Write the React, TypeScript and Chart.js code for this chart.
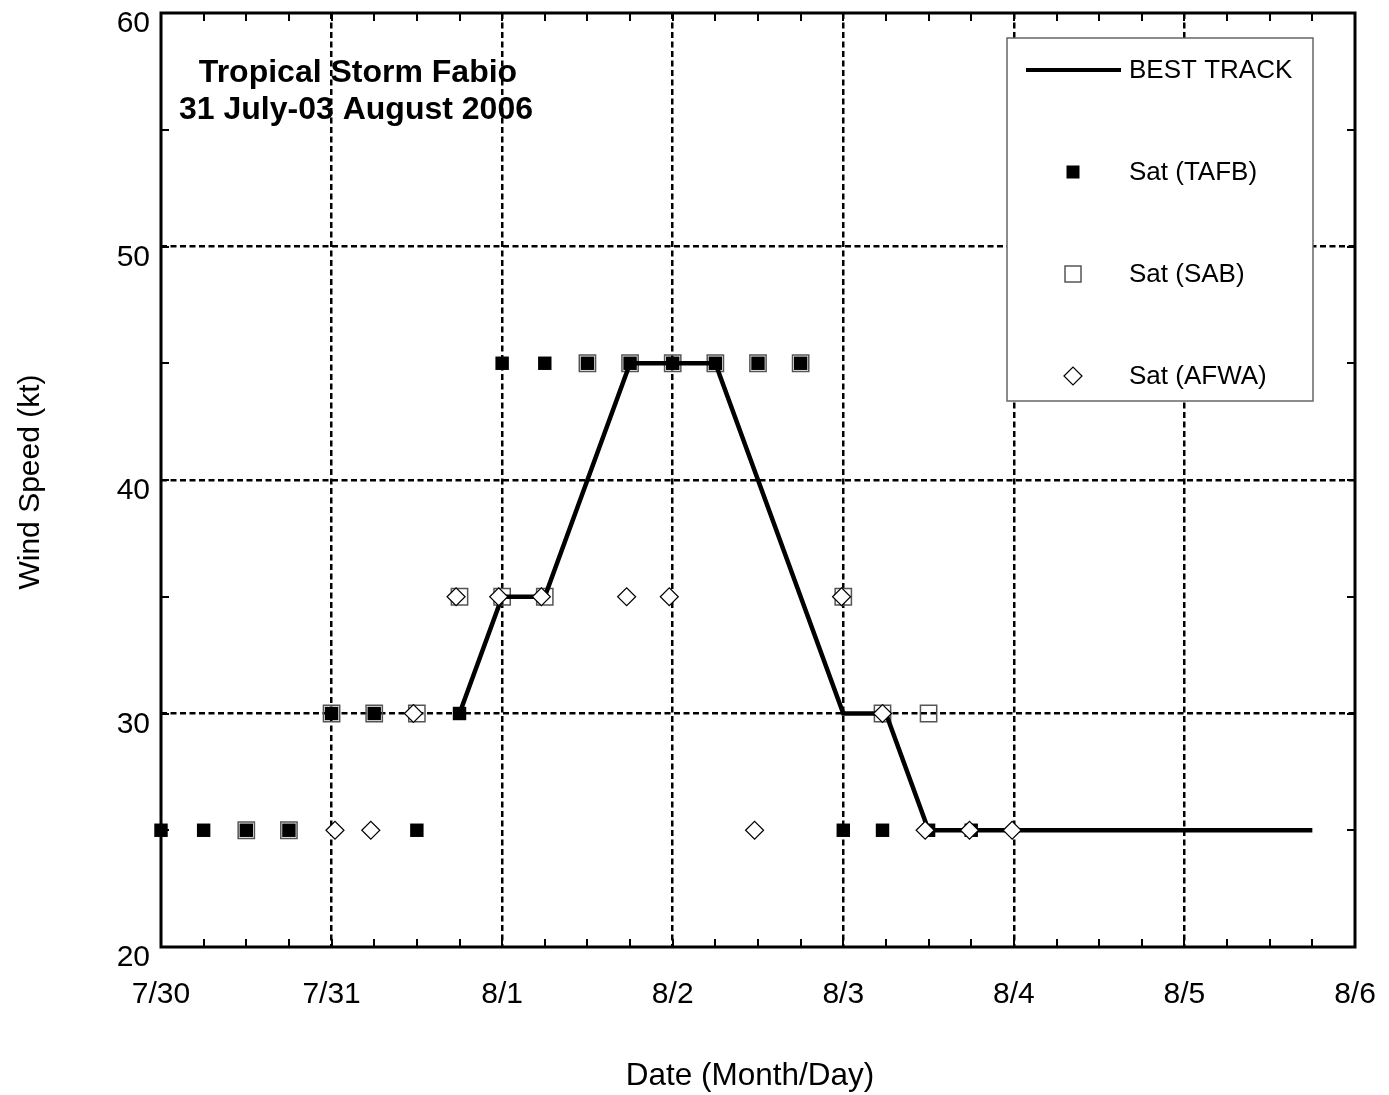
import React, { useEffect, useRef } from 'react';
import { Chart, registerables } from 'chart.js';

Chart.register(...registerables);

const FONT = '"Liberation Sans", Arial, Helvetica, sans-serif';

// ---- Data (days after 7/30 00 UTC, wind speed in kt) ----
const dayLabels = ['7/30', '7/31', '8/1', '8/2', '8/3', '8/4', '8/5', '8/6'];

const bestTrackDays = [1.75, 2.0, 2.25, 2.5, 2.75, 3.0, 3.25, 3.5, 3.75, 4.0, 4.25, 4.5, 4.75, 5.0, 5.25, 5.5, 5.75, 6.0, 6.25, 6.5, 6.75];
const bestTrackKt = [30, 35, 35, 40, 45, 45, 45, 40, 35, 30, 30, 25, 25, 25, 25, 25, 25, 25, 25, 25, 25];

const tafbDays = [0, 0.25, 0.5, 0.75, 1.0, 1.25, 1.5, 1.75, 2.0, 2.25, 2.5, 2.75, 3.0, 3.25, 3.5, 3.75, 4.0, 4.23, 4.5, 4.75];
const tafbKt = [25, 25, 25, 25, 30, 30, 25, 30, 45, 45, 45, 45, 45, 45, 45, 45, 25, 25, 25, 25];

const sabDays = [0.5, 0.75, 1.0, 1.25, 1.5, 1.75, 2.0, 2.25, 2.5, 2.75, 3.0, 3.25, 3.5, 3.75, 4.0, 4.23, 4.5];
const sabKt = [25, 25, 30, 30, 30, 35, 35, 35, 45, 45, 45, 45, 45, 45, 35, 30, 30];

const afwaDays = [1.02, 1.23, 1.48, 1.73, 1.98, 2.23, 2.73, 2.98, 3.48, 3.99, 4.23, 4.48, 4.74, 4.99];
const afwaKt = [25, 25, 30, 35, 35, 35, 35, 35, 25, 35, 30, 25, 25, 25];

const titleLines = ['Tropical Storm Fabio', '31 July-03 August 2006'];
const legendLabels = ['BEST TRACK', 'Sat (TAFB)', 'Sat (SAB)', 'Sat (AFWA)'];
const xTitle = 'Date (Month/Day)';
const yTitle = 'Wind Speed (kt)';

const X_MIN = 0, X_MAX = 7, Y_MIN = 20, Y_MAX = 60;

const toXY = (xs: number[], ys: number[]) => xs.map((x, i) => ({ x, y: ys[i] }));

const decorPlugin = {
  id: 'decor',
  afterDatasetsDraw(chart: any) {
    const { ctx, chartArea: a, scales } = chart;
    const xs = scales.x, ys = scales.y;
    ctx.save();
    // inner ticks on all four sides
    ctx.strokeStyle = '#000';
    ctx.lineWidth = 2;
    ctx.beginPath();
    for (let v = X_MIN; v <= X_MAX + 1e-6; v += 0.25) {
      const px = Math.round(xs.getPixelForValue(v));
      ctx.moveTo(px, a.bottom); ctx.lineTo(px, a.bottom - 8);
      ctx.moveTo(px, a.top); ctx.lineTo(px, a.top + 8);
    }
    for (let v = Y_MIN; v <= Y_MAX + 1e-6; v += 5) {
      const py = Math.round(ys.getPixelForValue(v));
      ctx.moveTo(a.left, py); ctx.lineTo(a.left + 8, py);
      ctx.moveTo(a.right, py); ctx.lineTo(a.right - 8, py);
    }
    ctx.stroke();
    // frame
    ctx.lineWidth = 3;
    ctx.strokeRect(a.left, a.top, a.right - a.left, a.bottom - a.top);

    // title
    ctx.fillStyle = '#000';
    ctx.font = `bold 32px ${FONT}`;
    ctx.textAlign = 'center';
    ctx.textBaseline = 'alphabetic';
    ctx.fillText(titleLines[0], 358, 82);
    ctx.fillText(titleLines[1], 356, 119);

    // axis titles
    ctx.textBaseline = 'middle';
    ctx.font = `31.5px ${FONT}`;
    ctx.fillText(xTitle, 750, 1076);
    ctx.font = `30px ${FONT}`;
    ctx.save();
    ctx.translate(31, 482);
    ctx.rotate(-Math.PI / 2);
    ctx.fillText(yTitle, 0, 0);
    ctx.restore();

    // legend box
    const bx = 1007, by = 38, bw = 306, bh = 363;
    ctx.fillStyle = '#fff';
    ctx.fillRect(bx, by, bw, bh);
    ctx.strokeStyle = '#666';
    ctx.lineWidth = 1.5;
    ctx.strokeRect(bx, by, bw, bh);

    const rowY = [70, 172, 274, 376];
    const sx = 1073;
    // best track line
    ctx.strokeStyle = '#000';
    ctx.lineWidth = 4;
    ctx.beginPath();
    ctx.moveTo(1026, rowY[0]); ctx.lineTo(1121, rowY[0]);
    ctx.stroke();
    // filled square
    ctx.fillStyle = '#000';
    ctx.fillRect(sx - 6.5, rowY[1] - 6.5, 13, 13);
    // open square
    ctx.strokeStyle = '#555';
    ctx.lineWidth = 1.5;
    ctx.strokeRect(sx - 8, rowY[2] - 8, 16, 16);
    // diamond
    ctx.fillStyle = '#fff';
    ctx.strokeStyle = '#000';
    ctx.lineWidth = 1.2;
    ctx.beginPath();
    ctx.moveTo(sx - 9, rowY[3]); ctx.lineTo(sx, rowY[3] - 9);
    ctx.lineTo(sx + 9, rowY[3]); ctx.lineTo(sx, rowY[3] + 9);
    ctx.closePath();
    ctx.fill(); ctx.stroke();

    ctx.fillStyle = '#000';
    ctx.font = `26px ${FONT}`;
    ctx.textAlign = 'left';
    ctx.textBaseline = 'middle';
    legendLabels.forEach((t, i) => ctx.fillText(t, 1129, rowY[i] + 1));
    ctx.restore();
  },
};

export default function App() {
  const ref = useRef<HTMLCanvasElement | null>(null);
  useEffect(() => {
    document.body.style.margin = '0';
    const canvas = ref.current;
    if (!canvas) return;
    const chart = new Chart(canvas, {
      type: 'scatter',
      data: {
        datasets: [
          {
            label: 'Sat (AFWA)',
            data: toXY(afwaDays, afwaKt),
            pointStyle: 'rectRot',
            pointRadius: 9,
            backgroundColor: '#fff',
            borderColor: '#000',
            borderWidth: 1.2,
            order: 0,
            clip: false,
          } as any,
          {
            label: 'BEST TRACK',
            data: toXY(bestTrackDays, bestTrackKt),
            showLine: true,
            borderColor: '#000',
            borderWidth: 4.5,
            pointRadius: 0,
            tension: 0,
            order: 1,
            clip: false,
          } as any,
          {
            label: 'Sat (TAFB)',
            data: toXY(tafbDays, tafbKt),
            pointStyle: 'rect',
            pointRadius: 9.5,
            backgroundColor: '#000',
            borderColor: '#000',
            borderWidth: 0,
            order: 2,
            clip: false,
          } as any,
          {
            label: 'Sat (SAB)',
            data: toXY(sabDays, sabKt),
            pointStyle: 'rect',
            pointRadius: 11.5,
            backgroundColor: 'rgba(0,0,0,0)',
            borderColor: '#555',
            borderWidth: 1.5,
            order: 3,
            clip: false,
          } as any,
        ],
      },
      options: {
        animation: false,
        responsive: false,
        devicePixelRatio: 1,
        layout: { padding: { top: 9, right: 34, left: 0, bottom: 0 } },
        plugins: { legend: { display: false }, tooltip: { enabled: false }, title: { display: false } },
        scales: {
          x: {
            type: 'linear',
            min: X_MIN,
            max: X_MAX,
            grid: {
              color: (c: any) => {
                const v = c.tick ? c.tick.value : X_MIN;
                return v === X_MIN || v === X_MAX ? 'rgba(0,0,0,0)' : '#000';
              },
              lineWidth: 2.5,
              drawTicks: false,
            },
            border: { display: false, dash: [6, 3.5] },
            ticks: {
              stepSize: 1,
              padding: 30,
              color: '#000',
              font: { family: FONT, size: 30 },
              maxRotation: 0,
              autoSkip: false,
              callback: (v: any) => dayLabels[Math.round(Number(v))] ?? '',
            },
            afterFit: (s: any) => { s.height = 148; s.paddingLeft = 0; s.paddingRight = 0; },
          },
          y: {
            type: 'linear',
            min: Y_MIN,
            max: Y_MAX,
            grid: {
              color: (c: any) => {
                const v = c.tick ? c.tick.value : Y_MIN;
                return v === Y_MIN || v === Y_MAX ? 'rgba(0,0,0,0)' : '#000';
              },
              lineWidth: 2.5,
              drawTicks: false,
            },
            border: { display: false, dash: [6, 3.5] },
            ticks: {
              stepSize: 10,
              padding: 11,
              labelOffset: 11,
              color: '#000',
              font: { family: FONT, size: 30 },
            },
            afterFit: (s: any) => { s.width = 161; s.paddingTop = 0; s.paddingBottom = 0; },
          },
        },
      } as any,
      plugins: [decorPlugin],
    });
    return () => chart.destroy();
  }, []);
  return <canvas ref={ref} width={1389} height={1095} style={{ display: 'block' }} />;
}
